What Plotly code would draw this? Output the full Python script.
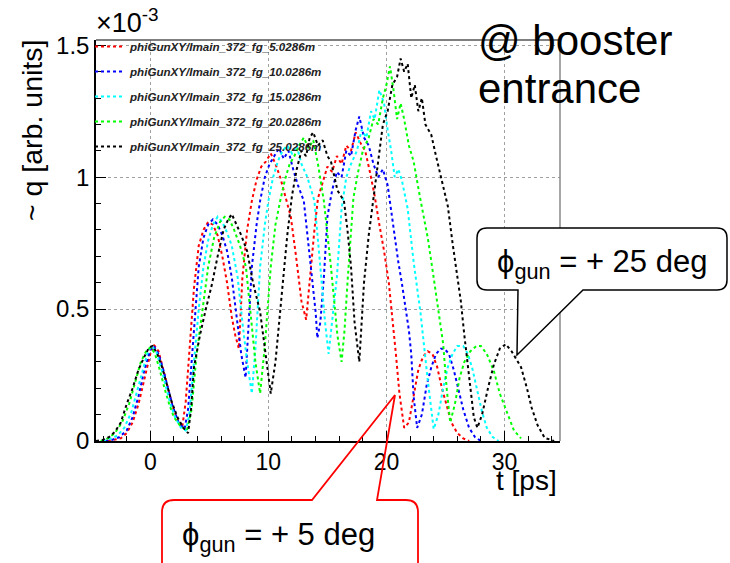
import plotly.graph_objects as go

# ---------------- data (q in units of 1e-3, t in ps) ----------------
names = ["phiGunXY/Imain_372_fg_5.0286m", "phiGunXY/Imain_372_fg_10.0286m",
         "phiGunXY/Imain_372_fg_15.0286m", "phiGunXY/Imain_372_fg_20.0286m",
         "phiGunXY/Imain_372_fg_25.0286m"]
colors = ["#ff0000", "#0000ff", "#00ffff", "#00ff00", "#000000"]

red_t = [-3.6, -3.0, -2.5, -2.0, -1.5, -1.0, -0.5, 0.0, 0.3, 0.7, 1.1, 1.5, 1.9, 2.3, 2.7,
         3.0, 3.3, 3.7, 4.1, 4.5, 4.9, 5.3, 5.7, 6.1, 6.5, 6.9, 7.2, 7.5, 7.8, 8.2, 8.6,
         9.0, 9.4, 9.8, 10.2, 10.6, 11.0, 11.4, 11.9, 12.4, 12.8, 13.2, 13.5, 13.9, 14.2,
         14.6, 15.0, 15.4, 15.8, 16.2, 16.6, 17.0, 17.4, 17.8, 18.2, 18.6, 19.0, 19.4,
         19.8, 20.2, 20.5, 20.8, 21.1, 21.5, 21.9, 22.3, 22.7, 23.1, 23.5, 23.9, 24.3,
         24.7, 25.1, 25.5, 26.0, 26.5, 27.0]
red_q = [0, 0.005, 0.01, 0.03, 0.07, 0.14, 0.24, 0.33, 0.365, 0.34, 0.27, 0.2, 0.13, 0.08, 0.05,
         0.15, 0.32, 0.58, 0.74, 0.80, 0.83, 0.82, 0.78, 0.70, 0.60, 0.47, 0.40, 0.35, 0.62, 0.80, 0.91,
         0.99, 1.04, 1.06, 1.09, 1.05, 1.0, 0.93, 0.85, 0.68, 0.53, 0.46, 0.62, 0.80, 0.92,
         0.98, 1.04, 1.02, 1.08, 1.05, 1.12, 1.10, 1.17, 1.13, 1.10, 1.02, 0.93, 0.82,
         0.72, 0.60, 0.47, 0.33, 0.18, 0.05, 0.07, 0.17, 0.27, 0.32, 0.34, 0.33, 0.28,
         0.2, 0.13, 0.07, 0.03, 0.01, 0]

blue_t = [-3.8, -3.2, -2.6, -2.0, -1.5, -1.0, -0.5, 0.0, 0.3, 0.7, 1.1, 1.5, 1.9, 2.4, 2.9,
          3.2, 3.6, 4.1, 4.5, 4.9, 5.3, 5.7, 6.1, 6.5, 6.9, 7.3, 7.7, 8.07, 8.3, 8.6, 9.0,
          9.3, 9.7, 10.1, 10.5, 10.9, 11.3, 11.7, 12.1, 12.5, 13.0, 13.6, 14.0, 14.15, 14.4,
          14.7, 15.0, 15.4, 15.8, 16.2, 16.6, 17.0, 17.4, 17.7, 18.1, 18.5, 18.9, 19.3,
          19.7, 20.1, 20.4, 20.7, 21.0, 21.3, 21.6, 21.9, 22.1, 22.3, 22.6, 23.0, 23.4,
          23.8, 24.2, 24.6, 24.9, 25.3, 25.7, 26.1, 26.5, 27.0, 27.5, 28.0]
blue_q = [0, 0.005, 0.015, 0.04, 0.09, 0.17, 0.27, 0.345, 0.36, 0.33, 0.27, 0.2, 0.13, 0.07, 0.045,
          0.12, 0.35, 0.66, 0.77, 0.82, 0.84, 0.82, 0.78, 0.72, 0.62, 0.47, 0.33, 0.24, 0.42, 0.66, 0.82,
          0.91, 1.0, 1.05, 1.08, 1.11, 1.07, 1.1, 1.03, 0.97, 0.91, 0.66, 0.49, 0.39, 0.45,
          0.62, 0.85, 0.95, 1.02, 1.0, 1.1, 1.08, 1.18, 1.23, 1.15, 1.12, 1.05, 1.0,
          1.03, 0.97, 0.87, 0.78, 0.68, 0.6, 0.5, 0.42, 0.33, 0.17, 0.05, 0.1, 0.21,
          0.28, 0.33, 0.35, 0.35, 0.33, 0.27, 0.19, 0.12, 0.05, 0.015, 0]

cyan_t = [-4.0, -3.4, -2.8, -2.2, -1.6, -1.1, -0.6, -0.2, 0.1, 0.5, 0.9, 1.3, 1.7, 2.1, 2.6,
          3.0, 3.3, 3.7, 4.1, 4.5, 4.9, 5.3, 5.7, 6.1, 6.5, 6.9, 7.4, 7.8, 8.2, 8.6, 8.9,
          9.3, 9.7, 10.0, 10.4, 10.8, 11.2, 11.6, 12.0, 12.4, 12.8, 13.3, 13.9, 14.4, 14.8,
          15.1, 15.4, 15.8, 16.2, 16.6, 17.0, 17.5, 17.9, 18.3, 18.7, 19.0, 19.4, 19.8,
          20.1, 20.4, 20.7, 21.0, 21.3, 21.8, 22.3, 22.9, 23.5, 24.0, 24.4, 24.8, 25.2,
          25.6, 26.0, 26.5, 26.9, 27.3, 27.7, 28.1, 28.5, 29.0, 29.5]
cyan_q = [0, 0.008, 0.02, 0.05, 0.11, 0.19, 0.28, 0.34, 0.36, 0.34, 0.28, 0.21, 0.14, 0.09, 0.05,
          0.04, 0.1, 0.3, 0.5, 0.66, 0.76, 0.82, 0.85, 0.83, 0.79, 0.74, 0.62, 0.45, 0.3, 0.18, 0.35,
          0.66, 0.82, 0.91, 1.0, 1.06, 1.1, 1.12, 1.09, 1.12, 1.05, 1.0, 0.91, 0.66, 0.45,
          0.33, 0.45, 0.62, 0.88, 1.0, 1.05, 1.1, 1.18, 1.15, 1.25, 1.22, 1.33, 1.28,
          1.18, 1.1, 1.0, 1.03, 0.99, 0.88, 0.68, 0.48, 0.23, 0.045, 0.1, 0.2, 0.28,
          0.33, 0.36, 0.36, 0.33, 0.27, 0.19, 0.11, 0.05, 0.015, 0]

green_t = [-4.2, -3.6, -3.0, -2.4, -1.8, -1.3, -0.8, -0.3, 0.05, 0.4, 0.8, 1.2, 1.6, 2.0, 2.5,
           3.1, 3.5, 3.9, 4.4, 4.9, 5.4, 5.9, 6.3, 6.7, 7.1, 7.6, 8.1, 8.5, 8.9, 9.3, 9.7,
           10.2, 10.6, 11.0, 11.4, 11.8, 12.2, 12.6, 13.0, 13.4, 13.8, 14.2, 14.7, 15.3, 15.85,
           16.2, 16.45, 16.7, 17.2, 17.6, 18.0, 18.5, 18.9, 19.3, 19.7, 20.0, 20.3, 20.6,
           20.9, 21.2, 21.5, 21.9, 22.3, 22.9, 23.5, 23.9, 24.3, 24.8, 25.1, 25.4, 25.8,
           26.2, 26.6, 27.1, 27.6, 28.0, 28.5, 29.1, 29.6, 30.3, 30.8, 31.4]
green_q = [0, 0.01, 0.03, 0.07, 0.14, 0.22, 0.3, 0.345, 0.355, 0.33, 0.27, 0.2, 0.14, 0.09, 0.06,
           0.04, 0.12, 0.32, 0.5, 0.66, 0.77, 0.83, 0.85, 0.84, 0.8, 0.74, 0.66, 0.48, 0.3, 0.18, 0.36,
           0.66, 0.82, 0.91, 0.99, 1.05, 1.08, 1.12, 1.15, 1.11, 1.14, 1.05, 0.91, 0.66, 0.4,
           0.3, 0.42, 0.6, 0.92, 1.02, 1.1, 1.15, 1.22, 1.2, 1.3, 1.35, 1.42, 1.33,
           1.22, 1.28, 1.22, 1.12, 1.06, 0.91, 0.77, 0.65, 0.53, 0.37, 0.2, 0.07, 0.14,
           0.24, 0.3, 0.34, 0.36, 0.36, 0.33, 0.265, 0.18, 0.1, 0.04, 0.01]

black_t = [-4.6, -4.0, -3.5, -3.0, -2.5, -2.0, -1.5, -1.0, -0.5, -0.1, 0.2, 0.6, 1.0, 1.4, 1.8,
           2.3, 2.8, 3.2, 3.45, 3.7, 4.2, 4.7, 5.2, 5.7, 6.2, 6.6, 6.9, 7.3, 7.7, 8.2, 8.7,
           9.3, 9.6, 9.9, 10.2, 10.6, 11.0, 11.6, 12.0, 12.4, 12.8, 13.2, 13.5, 13.8, 14.2,
           14.6, 15.0, 15.3, 15.85, 16.4, 16.7, 17.0, 17.3, 17.7, 18.1, 18.5, 18.9, 19.3,
           19.7, 20.1, 20.5, 20.9, 21.2, 21.5, 21.8, 22.1, 22.4, 22.7, 23.0, 23.3, 23.8,
           24.2, 24.6, 25.2, 25.6, 25.9, 26.3, 26.6, 26.9, 27.2, 27.4, 27.7, 28.1, 28.6,
           29.1, 29.6, 30.1, 30.6, 31.0, 31.4, 31.9, 32.3, 32.8, 33.4, 34.2]
black_q = [0, 0.005, 0.015, 0.035, 0.07, 0.14, 0.2, 0.27, 0.32, 0.355, 0.36, 0.33, 0.28, 0.21, 0.15,
           0.09, 0.05, 0.03, 0.12, 0.28, 0.4, 0.5, 0.59, 0.7, 0.8, 0.84, 0.86, 0.82, 0.78, 0.72, 0.6,
           0.49, 0.38, 0.28, 0.18, 0.3, 0.5, 0.78, 0.93, 1.03, 1.1, 1.08, 1.15, 1.17, 1.12,
           1.14, 1.08, 1.06, 0.95, 0.91, 0.8, 0.66, 0.45, 0.3, 0.6, 0.78, 0.92, 1.05,
           1.2, 1.25, 1.35, 1.38, 1.45, 1.4, 1.43, 1.3, 1.35, 1.25, 1.3, 1.2, 1.16,
           1.08, 1.0, 0.89, 0.75, 0.65, 0.53, 0.4, 0.28, 0.15, 0.09, 0.05, 0.1, 0.2,
           0.29, 0.35, 0.367, 0.34, 0.31, 0.28, 0.2, 0.126, 0.06, 0.012, 0]

series_t = [red_t, blue_t, cyan_t, green_t, black_t]
series_q = [red_q, blue_q, cyan_q, green_q, black_q]
for a, b in zip(series_t, series_q):
    assert len(a) == len(b), (len(a), len(b))

x_ticks = [0, 10, 20, 30]
y_ticks = [0, 0.5, 1, 1.5]
y_ticktext = ["0", "0.5", "1", "1.5"]

# ---------------- layout geometry (pixels) ----------------
W, H = 730, 563
L, R, T, B = 96, 560, 40, 441


def px(x):
    return (x - L) / (R - L)


def py(y):
    return (B - y) / (B - T)


def path(points, close=True):
    s = ""
    for cmd, pts in points:
        s += cmd + " " + " ".join(f"{px(a):.5f},{py(b):.5f}" for a, b in pts) + " "
    return s + ("Z" if close else "")


FONT = "Liberation Sans, Arial, Helvetica, sans-serif"

fig = go.Figure()
for i, (nm, c, t, q) in enumerate(zip(names, colors, series_t, series_q)):
    fig.add_trace(go.Scatter(x=t, y=q, mode="lines", name=nm, legendgroup=str(i),
                             line=dict(color=c, width=2, dash="dot")))

fig.update_layout(
    width=W, height=H,
    margin=dict(l=L, r=W - R, t=T, b=H - B, pad=0),
    paper_bgcolor="white", plot_bgcolor="white",
    font=dict(family=FONT, color="black"),
    showlegend=True,
    legend=dict(x=px(90), y=py(32), xanchor="left", yanchor="top",
                bgcolor="rgba(0,0,0,0)", borderwidth=0, tracegroupgap=6,
                itemwidth=30,
                font=dict(family=FONT, size=11.6, color="#222222", weight="bold", style="italic")),
    xaxis=dict(range=[-4.6, 34.7], tickvals=x_ticks, ticks="inside", ticklen=10, tickwidth=1,
               tickcolor="black", showline=True, linecolor="black", linewidth=1.5,
               showgrid=True, gridcolor="#a0a0a0", griddash="dot", gridwidth=1,
               zeroline=False, tickfont=dict(size=23, family=FONT, color="black"),
               minor=dict(dtick=2, tick0=0, ticks="inside", ticklen=5, tickcolor="black",
                          showgrid=False)),
    yaxis=dict(range=[0, 1.52], tickvals=y_ticks, ticktext=y_ticktext, ticks="inside",
               ticklen=10, tickwidth=1, tickcolor="black", showline=True, linecolor="black",
               linewidth=1.5, showgrid=True, gridcolor="#a0a0a0", griddash="dot", gridwidth=1,
               zeroline=False, tickfont=dict(size=24, family=FONT, color="black"),
               minor=dict(dtick=0.1, tick0=0, ticks="inside", ticklen=5, tickcolor="black",
                          showgrid=False)),
)

shapes = [
    dict(type="line", xref="paper", yref="paper", x0=0, x1=1, y0=1, y1=1,
         line=dict(color="#555555", width=1.5)),
    dict(type="line", xref="paper", yref="paper", x0=1, x1=1, y0=0, y1=1,
         line=dict(color="#888888", width=1.5)),
    # black callout
    dict(type="path", xref="paper", yref="paper", layer="above",
         path=path([("M", [(487, 228)]), ("L", [(717, 228)]), ("Q", [(727, 228), (727, 238)]),
                    ("L", [(727, 280)]), ("Q", [(727, 290), (717, 290)]),
                    ("L", [(583, 290)]), ("L", [(517, 355)]), ("L", [(518, 290)]),
                    ("L", [(487, 290)]), ("Q", [(477, 290), (477, 280)]),
                    ("L", [(477, 238)]), ("Q", [(477, 228), (487, 228)])]),
         fillcolor="white", line=dict(color="black", width=1.5)),
    # red callout
    dict(type="path", xref="paper", yref="paper", layer="above",
         path=path([("M", [(162, 585)]), ("L", [(162, 512)]), ("Q", [(162, 500), (174, 500)]),
                    ("L", [(312, 500)]), ("L", [(395, 395)]), ("L", [(377, 500)]),
                    ("L", [(406, 500)]), ("Q", [(418, 500), (418, 512)]),
                    ("L", [(418, 585)])], close=False),
         fillcolor="rgba(0,0,0,0)", line=dict(color="#ff0000", width=1.8)),
]

annotations = [
    dict(text="×10<sup>-3</sup>", x=px(94), y=py(21), xref="paper", yref="paper",
         xanchor="left", yanchor="middle", showarrow=False, font=dict(size=27)),
    dict(text="~ q [arb. units]", x=px(32), y=py(131), xref="paper", yref="paper",
         xanchor="center", yanchor="middle", textangle=-90, showarrow=False,
         font=dict(size=28.5)),
    dict(text="t [ps]", x=px(559), y=py(480), xref="paper", yref="paper",
         xanchor="right", yanchor="middle", showarrow=False, font=dict(size=28)),
    dict(text="@ booster", x=px(476), y=py(41), xref="paper", yref="paper",
         xanchor="left", yanchor="middle", showarrow=False, font=dict(size=42)),
    dict(text="entrance", x=px(476), y=py(88), xref="paper", yref="paper",
         xanchor="left", yanchor="middle", showarrow=False, font=dict(size=42)),
    dict(text="ϕ<sub>gun</sub> = + 25 deg", x=px(495), y=py(264), xref="paper", yref="paper",
         xanchor="left", yanchor="middle", showarrow=False, font=dict(size=31)),
    dict(text="ϕ<sub>gun</sub> = + 5 deg", x=px(180), y=py(537), xref="paper", yref="paper",
         xanchor="left", yanchor="middle", showarrow=False, font=dict(size=31)),
]

fig.update_layout(shapes=shapes, annotations=annotations)
fig.write_html("out.html")
